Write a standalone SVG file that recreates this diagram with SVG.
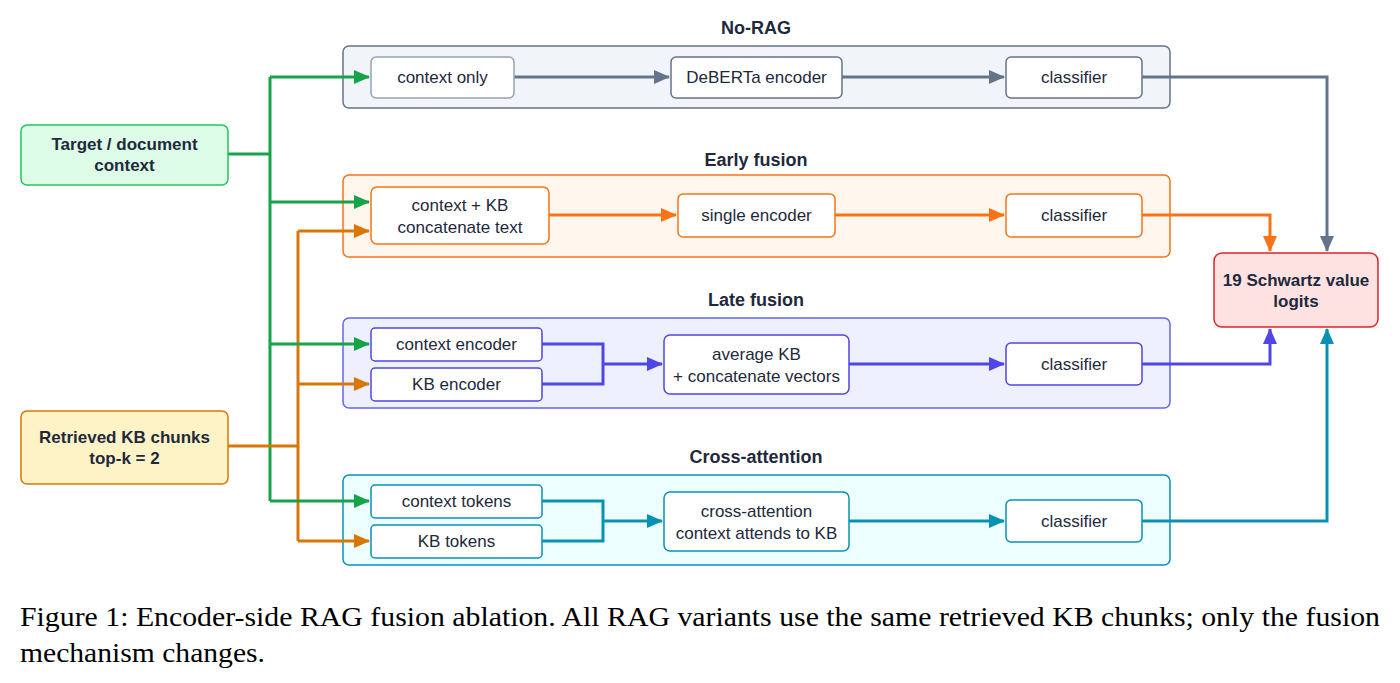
<svg xmlns="http://www.w3.org/2000/svg" width="1400" height="683" viewBox="0 0 1400 683">
<defs>
<style>
text{font-family:"Liberation Sans",Arial,sans-serif;fill:#1e293b;dominant-baseline:central;text-anchor:middle}
.n{font-size:17px}
.b{font-size:17px;font-weight:bold}
.t{font-size:18px;font-weight:bold}
.cap{font-family:"Liberation Serif","Times New Roman",serif;font-size:26.5px;fill:#000;dominant-baseline:alphabetic;text-anchor:start}
.c{stroke-width:1.5}
.box{fill:#fff;stroke-width:1.5}
.l{fill:none;stroke-width:3}
.gray{stroke:#64748b}
.org{stroke:#f97316}
.pur{stroke:#4f46e5}
.teal{stroke:#0891b2}
.grn{stroke:#16a34a}
.dor{stroke:#d97706}
</style>
<marker id="mGray" markerUnits="userSpaceOnUse" markerWidth="16" markerHeight="14" refX="15" refY="7" orient="auto"><path d="M0,0 L16,7 L0,14 Z" fill="#64748b"/></marker>
<marker id="mOrg" markerUnits="userSpaceOnUse" markerWidth="16" markerHeight="14" refX="15" refY="7" orient="auto"><path d="M0,0 L16,7 L0,14 Z" fill="#f97316"/></marker>
<marker id="mPur" markerUnits="userSpaceOnUse" markerWidth="16" markerHeight="14" refX="15" refY="7" orient="auto"><path d="M0,0 L16,7 L0,14 Z" fill="#4f46e5"/></marker>
<marker id="mTeal" markerUnits="userSpaceOnUse" markerWidth="16" markerHeight="14" refX="15" refY="7" orient="auto"><path d="M0,0 L16,7 L0,14 Z" fill="#0891b2"/></marker>
<marker id="mGrn" markerUnits="userSpaceOnUse" markerWidth="16" markerHeight="14" refX="15" refY="7" orient="auto"><path d="M0,0 L16,7 L0,14 Z" fill="#16a34a"/></marker>
<marker id="mDor" markerUnits="userSpaceOnUse" markerWidth="16" markerHeight="14" refX="15" refY="7" orient="auto"><path d="M0,0 L16,7 L0,14 Z" fill="#d97706"/></marker>
</defs>
<rect width="1400" height="683" fill="#fff"/>

<!-- containers -->
<g id="noRag">
<rect class="c" x="343" y="46" width="827" height="62" rx="6" fill="#f1f5f9" stroke="#64748b"/>
<text class="t" x="756" y="28">No-RAG</text>
</g>
<g id="early">
<rect class="c" x="343" y="175" width="827" height="82" rx="6" fill="#fff7ed" stroke="#f97316"/>
<text class="t" x="756" y="160">Early fusion</text>
</g>
<g id="late">
<rect class="c" x="343" y="318" width="827" height="90" rx="6" fill="#eef0fe" stroke="#6366f1"/>
<text class="t" x="756" y="300">Late fusion</text>
</g>
<g id="cross">
<rect class="c" x="343" y="475" width="827" height="90" rx="6" fill="#ecfeff" stroke="#0891b2"/>
<text class="t" x="756" y="457">Cross-attention</text>
</g>

<!-- connectors -->
<g id="connectors">
<path class="l gray" d="M514,77 H669" marker-end="url(#mGray)"/>
<path class="l gray" d="M842,77 H1004" marker-end="url(#mGray)"/>
<path class="l gray" d="M1142,77 H1327 V251" marker-end="url(#mGray)"/>

<path class="l org" d="M549,215 H676" marker-end="url(#mOrg)"/>
<path class="l org" d="M835,215 H1004" marker-end="url(#mOrg)"/>
<path class="l org" d="M1142,215 H1270 V251" marker-end="url(#mOrg)"/>

<path class="l pur" d="M542,344 H603 V384 H542"/>
<path class="l pur" d="M603,364 H662" marker-end="url(#mPur)"/>
<path class="l pur" d="M849,364 H1004" marker-end="url(#mPur)"/>
<path class="l pur" d="M1142,364 H1270 V329" marker-end="url(#mPur)"/>

<path class="l teal" d="M542,501 H603 V541 H542"/>
<path class="l teal" d="M603,521 H662" marker-end="url(#mTeal)"/>
<path class="l teal" d="M849,521 H1004" marker-end="url(#mTeal)"/>
<path class="l teal" d="M1142,521 H1327 V329" marker-end="url(#mTeal)"/>

<path class="l grn" d="M270,77 V501"/>
<path class="l grn" d="M228,154 H270" stroke-width="4"/>
<path class="l grn" d="M270,77 H369" marker-end="url(#mGrn)"/>
<path class="l grn" d="M270,202 H369" marker-end="url(#mGrn)"/>

<path class="l dor" d="M298,231 V541"/>
<path class="l dor" d="M228,446 H298"/>
<path class="l dor" d="M298,231 H369" marker-end="url(#mDor)"/>
<path class="l dor" d="M298,384 H369" marker-end="url(#mDor)"/>
<path class="l dor" d="M298,541 H369" marker-end="url(#mDor)"/>

<path class="l grn" d="M270,344 H369" marker-end="url(#mGrn)"/>
<path class="l grn" d="M270,501 H369" marker-end="url(#mGrn)"/>
</g>

<!-- inputs / output -->
<g id="target">
<rect class="c" x="21" y="125" width="207" height="60" rx="6" fill="#dcfce7" stroke="#22c55e"/>
<text class="b" x="124.5" y="144">Target / document</text>
<text class="b" x="124.5" y="165">context</text>
</g>
<g id="retrieved">
<rect class="c" x="21" y="411" width="207" height="73" rx="6" fill="#fef3c7" stroke="#d97706"/>
<text class="b" x="124.5" y="437">Retrieved KB chunks</text>
<text class="b" x="124.5" y="458">top-k = 2</text>
</g>
<g id="logits">
<rect class="c" x="1214" y="253" width="164" height="74" rx="8" fill="#fee2e2" stroke="#dc2626"/>
<text class="b" x="1296" y="280">19 Schwartz value</text>
<text class="b" x="1296" y="301">logits</text>
</g>

<!-- No-RAG nodes -->
<g id="contextOnly">
<rect class="box" x="371" y="57" width="143" height="41" rx="5" stroke="#94a3b8"/>
<text class="n" x="442.5" y="77.5">context only</text>
</g>
<g id="deberta">
<rect class="box" x="671" y="57" width="171" height="41" rx="5" stroke="#64748b"/>
<text class="n" x="756.5" y="77.5">DeBERTa encoder</text>
</g>
<g id="clsNoRag">
<rect class="box" x="1006" y="57" width="136" height="41" rx="5" stroke="#64748b"/>
<text class="n" x="1074" y="77.5">classifier</text>
</g>

<!-- Early fusion nodes -->
<g id="ctxKb">
<rect class="box" x="371" y="187" width="178" height="57" rx="6" stroke="#f97316"/>
<text class="n" x="460" y="205">context + KB</text>
<text class="n" x="460" y="227">concatenate text</text>
</g>
<g id="singleEnc">
<rect class="box" x="678" y="194" width="157" height="43" rx="5" stroke="#f97316"/>
<text class="n" x="756.5" y="215.5">single encoder</text>
</g>
<g id="clsEarly">
<rect class="box" x="1006" y="194" width="136" height="43" rx="5" stroke="#f97316"/>
<text class="n" x="1074" y="215.5">classifier</text>
</g>

<!-- Late fusion nodes -->
<g id="ctxEnc">
<rect class="box" x="371" y="328" width="171" height="33" rx="4" stroke="#4f46e5"/>
<text class="n" x="456.5" y="344.5">context encoder</text>
</g>
<g id="kbEnc">
<rect class="box" x="371" y="368" width="171" height="33" rx="4" stroke="#4f46e5"/>
<text class="n" x="456.5" y="384.5">KB encoder</text>
</g>
<g id="avgKb">
<rect class="box" x="664" y="335" width="185" height="59" rx="6" stroke="#4f46e5"/>
<text class="n" x="756.5" y="354">average KB</text>
<text class="n" x="756.5" y="376">+ concatenate vectors</text>
</g>
<g id="clsLate">
<rect class="box" x="1006" y="343" width="136" height="42" rx="5" stroke="#4f46e5"/>
<text class="n" x="1074" y="364.5">classifier</text>
</g>

<!-- Cross-attention nodes -->
<g id="ctxTok">
<rect class="box" x="371" y="485" width="171" height="33" rx="4" stroke="#0891b2"/>
<text class="n" x="456.5" y="501.5">context tokens</text>
</g>
<g id="kbTok">
<rect class="box" x="371" y="525" width="171" height="33" rx="4" stroke="#0891b2"/>
<text class="n" x="456.5" y="541.5">KB tokens</text>
</g>
<g id="crossAttn">
<rect class="box" x="664" y="492" width="185" height="59" rx="6" stroke="#0891b2"/>
<text class="n" x="756.5" y="511">cross-attention</text>
<text class="n" x="756.5" y="533">context attends to KB</text>
</g>
<g id="clsCross">
<rect class="box" x="1006" y="500" width="136" height="42" rx="5" stroke="#0891b2"/>
<text class="n" x="1074" y="521.5">classifier</text>
</g>

<!-- caption -->
<text class="cap" x="20" y="626" textLength="1360" lengthAdjust="spacingAndGlyphs">Figure 1: Encoder-side RAG fusion ablation. All RAG variants use the same retrieved KB chunks; only the fusion</text>
<text class="cap" x="20" y="662" textLength="245" lengthAdjust="spacingAndGlyphs">mechanism changes.</text>
</svg>
